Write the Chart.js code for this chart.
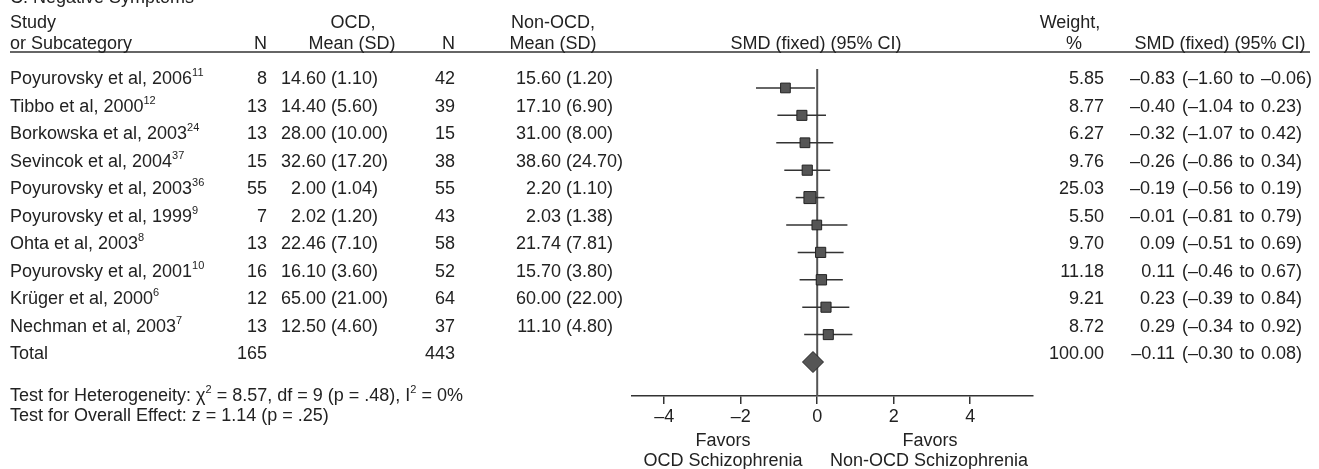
<!DOCTYPE html>
<html>
<head>
<meta charset="utf-8">
<script src="https://cdn.jsdelivr.net/npm/chart.js@4.4.0/dist/chart.umd.min.js"></script>
<style>
  html, body { margin: 0; padding: 0; background: #fff; }
  #wrap { position: relative; width: 1319px; height: 469px; overflow: hidden;
          font-family: "Liberation Sans", Arial, sans-serif; font-size: 18px; color: #222; }
  #forest { position: absolute; left: 0; top: 0; }
  .t { position: absolute; white-space: nowrap; line-height: 1; }
  .t sup { font-size: 11px; vertical-align: 0; position: relative; top: -8px; }
  .ci { word-spacing: 1.5px; }
  .rule { position: absolute; left: 10px; width: 1300px; top: 51px; height: 2px; background: #666; }
</style>
</head>
<body>
<div id="wrap">
  <canvas id="forest" width="1319" height="469"></canvas>
  <div class="rule"></div>
</div>
<script>
// study data
const studies = ['Poyurovsky et al, 2006', 'Tibbo et al, 2000', 'Borkowska et al, 2003', 'Sevincok et al, 2004',
  'Poyurovsky et al, 2003', 'Poyurovsky et al, 1999', 'Ohta et al, 2003', 'Poyurovsky et al, 2001',
  'Krüger et al, 2000', 'Nechman et al, 2003'];
const refs = ['11', '12', '24', '37', '36', '9', '8', '10', '6', '7'];
const ocdN = [8, 13, 13, 15, 55, 7, 13, 16, 12, 13];
const ocdMean = [14.60, 14.40, 28.00, 32.60, 2.00, 2.02, 22.46, 16.10, 65.00, 12.50];
const ocdSD = [1.10, 5.60, 10.00, 17.20, 1.04, 1.20, 7.10, 3.60, 21.00, 4.60];
const nonN = [42, 39, 15, 38, 55, 43, 58, 52, 64, 37];
const nonMean = [15.60, 17.10, 31.00, 38.60, 2.20, 2.03, 21.74, 15.70, 60.00, 11.10];
const nonSD = [1.20, 6.90, 8.00, 24.70, 1.10, 1.38, 7.81, 3.80, 22.00, 4.80];
const weights = [5.85, 8.77, 6.27, 9.76, 25.03, 5.50, 9.70, 11.18, 9.21, 8.72];
const smd = [-0.83, -0.40, -0.32, -0.26, -0.19, -0.01, 0.09, 0.11, 0.23, 0.29];
const ciLow = [-1.60, -1.04, -1.07, -0.86, -0.56, -0.81, -0.51, -0.46, -0.39, -0.34];
const ciHigh = [-0.06, 0.23, 0.42, 0.34, 0.19, 0.79, 0.69, 0.67, 0.84, 0.92];

// pooled result
const totalN = [165, 443];
const totalWeight = 100.00;
const totalSmd = -0.11;
const totalCi = [-0.30, 0.08];

const xTicks = [-4, -2, 0, 2, 4];

const wrap = document.getElementById('wrap');
const fmt = v => (v < 0 ? '\u2013' : '') + Math.abs(v).toFixed(2);

function put(html, x, y, align, cls) {
  const d = document.createElement('div');
  d.className = 't' + (cls ? ' ' + cls : '');
  d.innerHTML = html;
  d.style.left = x + 'px';
  d.style.top = y + 'px';
  const tx = align === 'right' ? '-100%' : align === 'center' ? '-50%' : '0';
  d.style.transform = `translate(${tx}, -50%)`;
  wrap.appendChild(d);
}

// header
put('C. Negative Symptoms', 10, -3);
put('Study', 10, 22);
put('or Subcategory', 10, 43);
put('N', 267, 43, 'right');
put('OCD,', 353, 22, 'center');
put('Mean (SD)', 352, 43, 'center');
put('N', 455, 43, 'right');
put('Non-OCD,', 553, 22, 'center');
put('Mean (SD)', 553, 43, 'center');
put('SMD (fixed) (95% CI)', 816, 43, 'center');
put('Weight,', 1070, 22, 'center');
put('%', 1074, 43, 'center');
put('SMD (fixed) (95% CI)', 1220, 43, 'center');

// rows
const rowY = i => 78.3 + 27.5 * i;
studies.forEach((s, i) => {
  const y = rowY(i);
  put(s + '<sup>' + refs[i] + '</sup>', 10, y);
  put(ocdN[i], 267, y, 'right');
  put(ocdMean[i].toFixed(2), 326, y, 'right');
  put('(' + ocdSD[i].toFixed(2) + ')', 331, y);
  put(nonN[i], 455, y, 'right');
  put(nonMean[i].toFixed(2), 561, y, 'right');
  put('(' + nonSD[i].toFixed(2) + ')', 566, y);
  put(weights[i].toFixed(2), 1104, y, 'right');
  put(fmt(smd[i]), 1175, y, 'right');
  put('(' + fmt(ciLow[i]) + ' to ' + fmt(ciHigh[i]) + ')', 1182, y, null, 'ci');
});
const ty = rowY(10);
put('Total', 10, ty);
put(totalN[0], 267, ty, 'right');
put(totalN[1], 455, ty, 'right');
put(totalWeight.toFixed(2), 1104, ty, 'right');
put(fmt(totalSmd), 1175, ty, 'right');
put('(' + fmt(totalCi[0]) + ' to ' + fmt(totalCi[1]) + ')', 1182, ty, null, 'ci');

// footer
put('Test for Heterogeneity: \u03c7<sup>2</sup> = 8.57, df = 9 (p = .48), I<sup>2</sup> = 0%', 10, 395);
put('Test for Overall Effect: z = 1.14 (p = .25)', 10, 415);
put('Favors', 723, 440, 'center');
put('OCD Schizophrenia', 723, 460, 'center');
put('Favors', 930, 440, 'center');
put('Non-OCD Schizophrenia', 929, 460, 'center');

// chart
Chart.defaults.font.family = '"Liberation Sans", Arial, sans-serif';
Chart.defaults.color = '#222';

const squareRadius = w => (9 + 0.12 * w) / Math.SQRT2;

const ciSets = studies.map((s, i) => ({
  type: 'line',
  data: [{ x: ciLow[i], y: i }, { x: ciHigh[i], y: i }],
  borderColor: '#333',
  borderWidth: 1.5,
  pointRadius: 0,
  order: 2
}));

new Chart(document.getElementById('forest'), {
  type: 'scatter',
  data: {
    datasets: [
      {
        data: smd.map((v, i) => ({ x: v, y: i })),
        pointStyle: 'rect',
        pointRadius: weights.map(squareRadius),
        backgroundColor: '#555',
        borderColor: '#222',
        borderWidth: 1,
        order: 0
      },
      {
        data: [{ x: totalSmd, y: 10 }],
        pointStyle: 'rectRot',
        pointRadius: 10.5,
        backgroundColor: '#555',
        borderColor: '#222',
        borderWidth: 1,
        order: 0
      },
      ...ciSets,
      {
        type: 'line',
        data: [{ x: 0, y: -0.69 }, { x: 0, y: 11.24 }],
        borderColor: '#555',
        borderWidth: 2,
        pointRadius: 0,
        order: 3
      }
    ]
  },
  options: {
    responsive: false,
    animation: false,
    devicePixelRatio: 1,
    events: [],
    layout: { padding: { left: 632, right: 286, top: 60, bottom: 43 } },
    plugins: { legend: { display: false }, tooltip: { enabled: false } },
    scales: {
      x: {
        type: 'linear',
        position: 'bottom',
        min: -4.84,
        max: 5.64,
        afterBuildTicks: scale => { scale.ticks = xTicks.map(v => ({ value: v })); },
        afterFit: scale => { scale.height = 30; },
        ticks: {
          font: { size: 18 },
          color: '#222',
          padding: 2,
          callback: v => (v < 0 ? '\u2013' + Math.abs(v) : String(v))
        },
        grid: { drawOnChartArea: false, drawTicks: true, tickLength: 8, color: '#333', lineWidth: 1.5 },
        border: { display: true, color: '#333', width: 1.5 }
      },
      y: {
        type: 'linear',
        min: -1.02,
        max: 11.24,
        reverse: true,
        display: false
      }
    }
  }
});
</script>
</body>
</html>
